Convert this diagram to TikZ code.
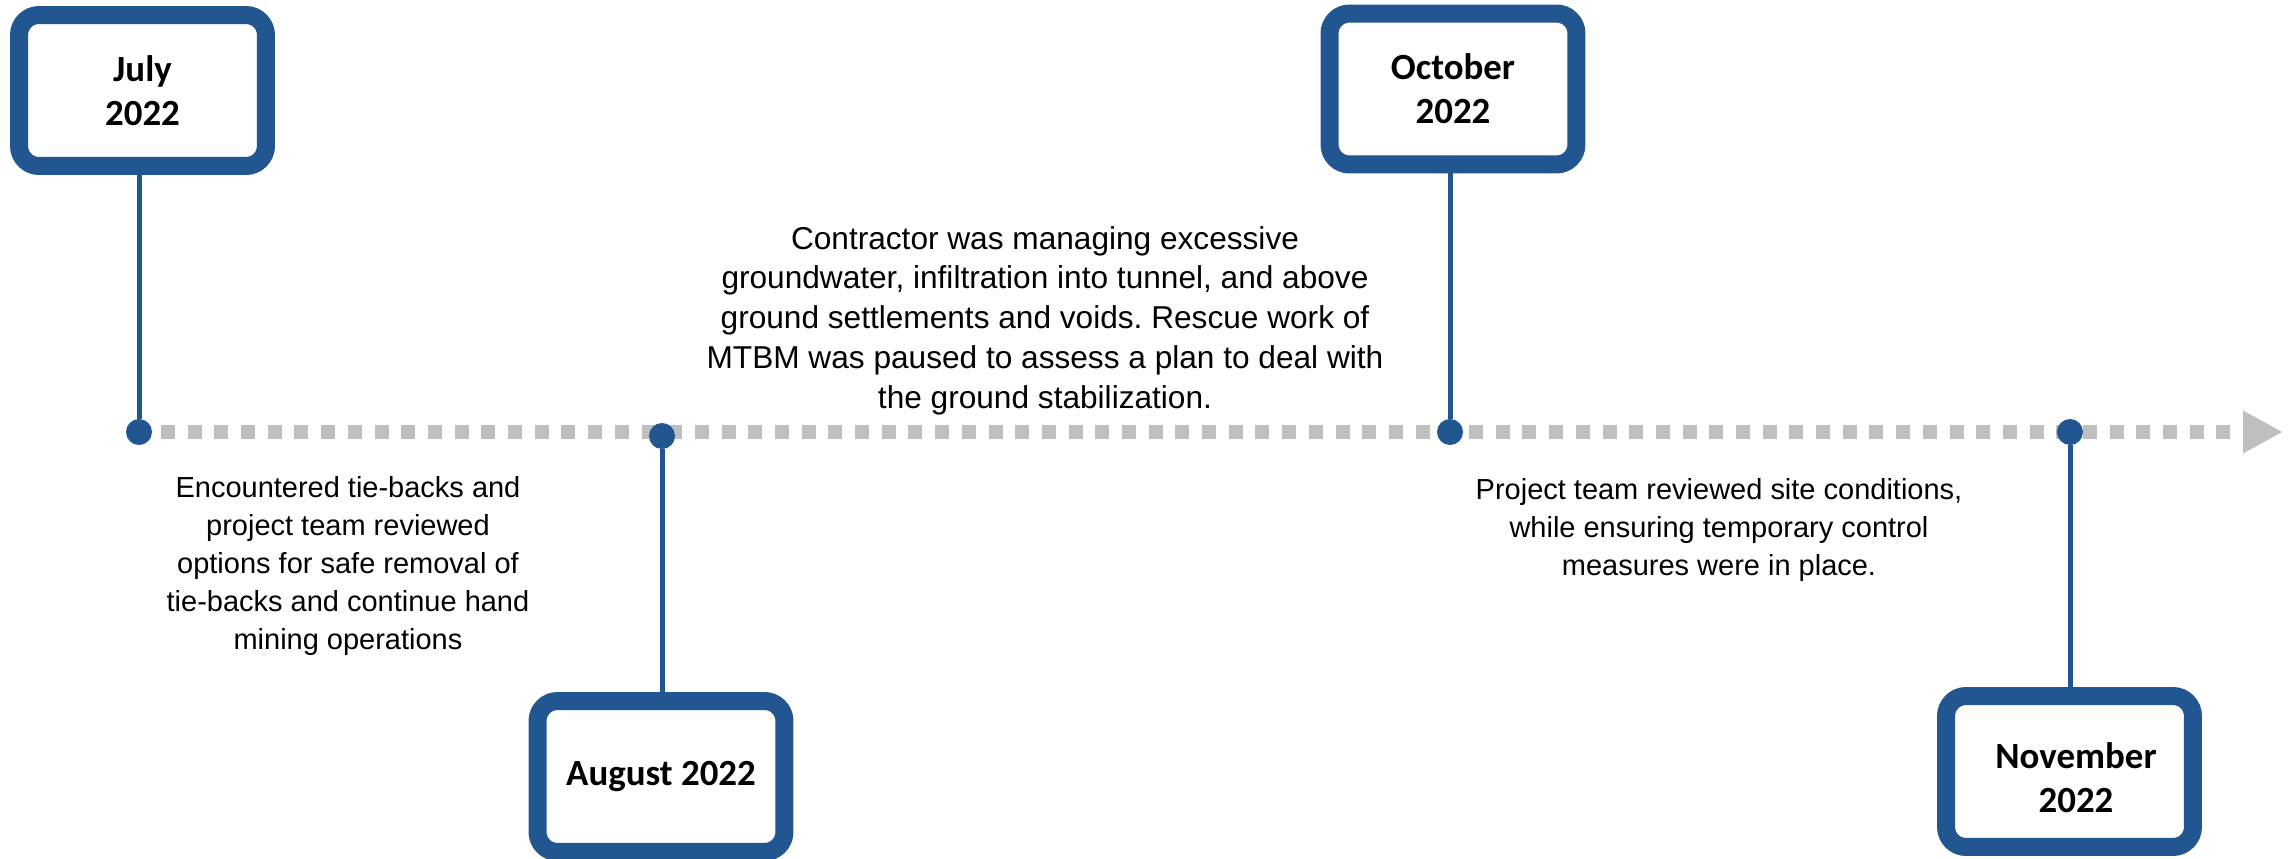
\documentclass[tikz,border=0pt]{standalone}
\usepackage{fontspec}
\setmainfont{Liberation Sans}
\newfontfamily\datefont{Carlito}
\usetikzlibrary{arrows.meta,backgrounds}
\definecolor{tlblue}{RGB}{34,86,145}
\definecolor{tlgray}{RGB}{191,191,191}
\frenchspacing
\begin{document}
\begin{tikzpicture}[x=0.02cm,y=-0.02cm,
  datebox/.style={draw=tlblue,fill=white,line width=0.36cm,rounded corners=0.4cm,
    minimum width=4.94cm,minimum height=3.02cm,inner sep=0pt,align=center,
    font=\datefont\bfseries\fontsize{21}{25}\selectfont},
  datetext/.style={inner sep=0pt,align=center,font=\datefont\bfseries\fontsize{21}{25}\selectfont},
  tdot/.style={circle,fill=tlblue,minimum size=0.52cm,inner sep=0pt},
  stem/.style={draw=tlblue,line width=0.1cm},
  timeline/.style={draw=tlgray,line width=0.28cm,dash pattern=on 0.28cm off 0.254cm},
  desc/.style={anchor=north,inner sep=0pt,align=center,font=\fontsize{16.5}{21.7}\selectfont}]
\useasboundingbox (0,0) rectangle (2290,859);
% dots
\node[tdot] (jdot) at (139,432) {};
\node[tdot] (adot) at (662,436) {};
\node[tdot] (odot) at (1450,432) {};
\node[tdot] (ndot) at (2070,432) {};
\coordinate (tlend) at (2283,432);
\coordinate (tlstart) at (161,432);
\begin{pgfonlayer}{background}
\draw[timeline,-{Triangle[length=0.8cm,width=0.8cm]}] (tlstart) -- (tlend);
\end{pgfonlayer}
% boxes
\node[datebox] (jul) at (142.5,90.5) {July\\2022};
\node[datebox] (oct) at (1453,89) {October\\2022};
\node[datebox] (aug) at (661,776.5) {August 2022};
\node[datebox] (nov) at (2069.5,771.5) {};
\node[datetext] (novtext) at (2076,778) {November\\2022};
% stems
\draw[stem] (jdot) -- (jdot |- jul.south);
\draw[stem] (odot) -- (odot |- oct.south);
\draw[stem] (adot) -- (adot |- aug.north);
\draw[stem] (ndot) -- (ndot |- nov.north);
% descriptions
\node[desc,font=\fontsize{18}{22.6}\selectfont] (mtext) at (1045,226) {Contractor was managing excessive\\groundwater, infiltration into tunnel, and above\\ground settlements and voids. Rescue work of\\MTBM was paused to assess a plan to deal with\\the ground stabilization.};
\node[desc] (ltext) at (348,476) {Encountered tie-backs and\\project team reviewed\\options for safe removal of\\tie-backs and continue hand\\mining operations};
\node[desc] (rtext) at (1719,478) {Project team reviewed site conditions,\\while ensuring temporary control\\measures were in place.};
\end{tikzpicture}
\end{document}
